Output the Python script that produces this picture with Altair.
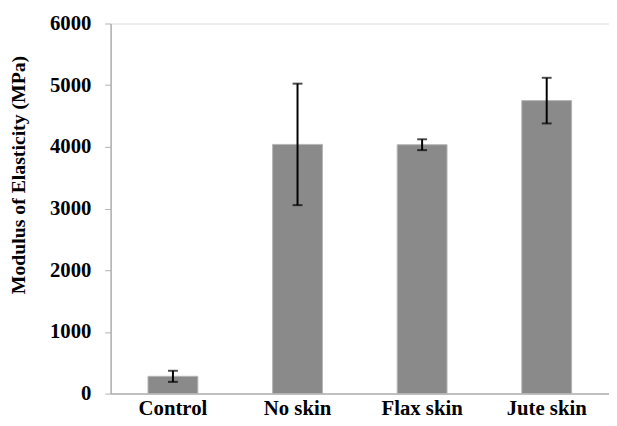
import altair as alt
import pandas as pd

categories = ["Control", "No skin", "Flax skin", "Jute skin"]
means = [280, 4040, 4035, 4750]
errors = [90, 985, 88, 370]
y_ticks = [0, 1000, 2000, 3000, 4000, 5000, 6000]

df = pd.DataFrame({"cat": categories, "mean": means, "err": errors})
df["lo"] = df["mean"] - df["err"]
df["hi"] = df["mean"] + df["err"]

FONT = "Liberation Serif"

x_enc = alt.X(
    "cat:N",
    sort=categories,
    scale=alt.Scale(paddingInner=0.6, paddingOuter=0.3),
    axis=alt.Axis(
        title=None, labelAngle=0, ticks=False, tickSize=0,
        labelFont=FONT, labelFontSize=21, labelFontWeight="bold", labelColor="black",
        labelBaseline="alphabetic", labelPadding=21,
        domainColor="#b0b0b0", domainWidth=1.5,
    ),
)

y_scale = alt.Scale(domain=[0, 6000], nice=False)
y_axis = alt.Axis(
    title="Modulus of Elasticity (MPa)", values=y_ticks, grid=False, format="d",
    labelFont=FONT, labelFontSize=21, labelFontWeight="bold", labelColor="black",
    labelPadding=14, tickSize=6, tickColor="#b0b0b0", domainColor="#b0b0b0", domainWidth=1.5,
    titleFont=FONT, titleFontSize=20, titleFontWeight="bold", titleColor="black",
    titleAngle=-90, titleX=-93, titleY=153, titleAlign="center", titleBaseline="middle",
)

bars = alt.Chart(df).mark_bar(color="#8a8a8a", stroke="#b5b5b5", strokeWidth=1).encode(
    x=x_enc,
    y=alt.Y("mean:Q", scale=y_scale, axis=y_axis),
)

rules = alt.Chart(df).mark_rule(color="black", strokeWidth=2).encode(
    x=alt.X("cat:N", sort=categories),
    y=alt.Y("lo:Q"),
    y2="hi:Q",
)

caps_lo = alt.Chart(df).mark_tick(color="black", thickness=2, size=10, orient="horizontal").encode(
    x=alt.X("cat:N", sort=categories),
    y=alt.Y("lo:Q"),
)
caps_hi = alt.Chart(df).mark_tick(color="black", thickness=2, size=10, orient="horizontal").encode(
    x=alt.X("cat:N", sort=categories),
    y=alt.Y("hi:Q"),
)

chart = alt.layer(bars, rules, caps_lo, caps_hi).properties(
    width=505,
    height=375,
    autosize=alt.AutoSizeParams(type="none"),
    padding={"left": 104, "top": 13, "right": 0, "bottom": 22},
).configure_view(stroke=None).configure(background="white")

chart.save("out.html", embed_options={"renderer": "svg", "actions": False})
